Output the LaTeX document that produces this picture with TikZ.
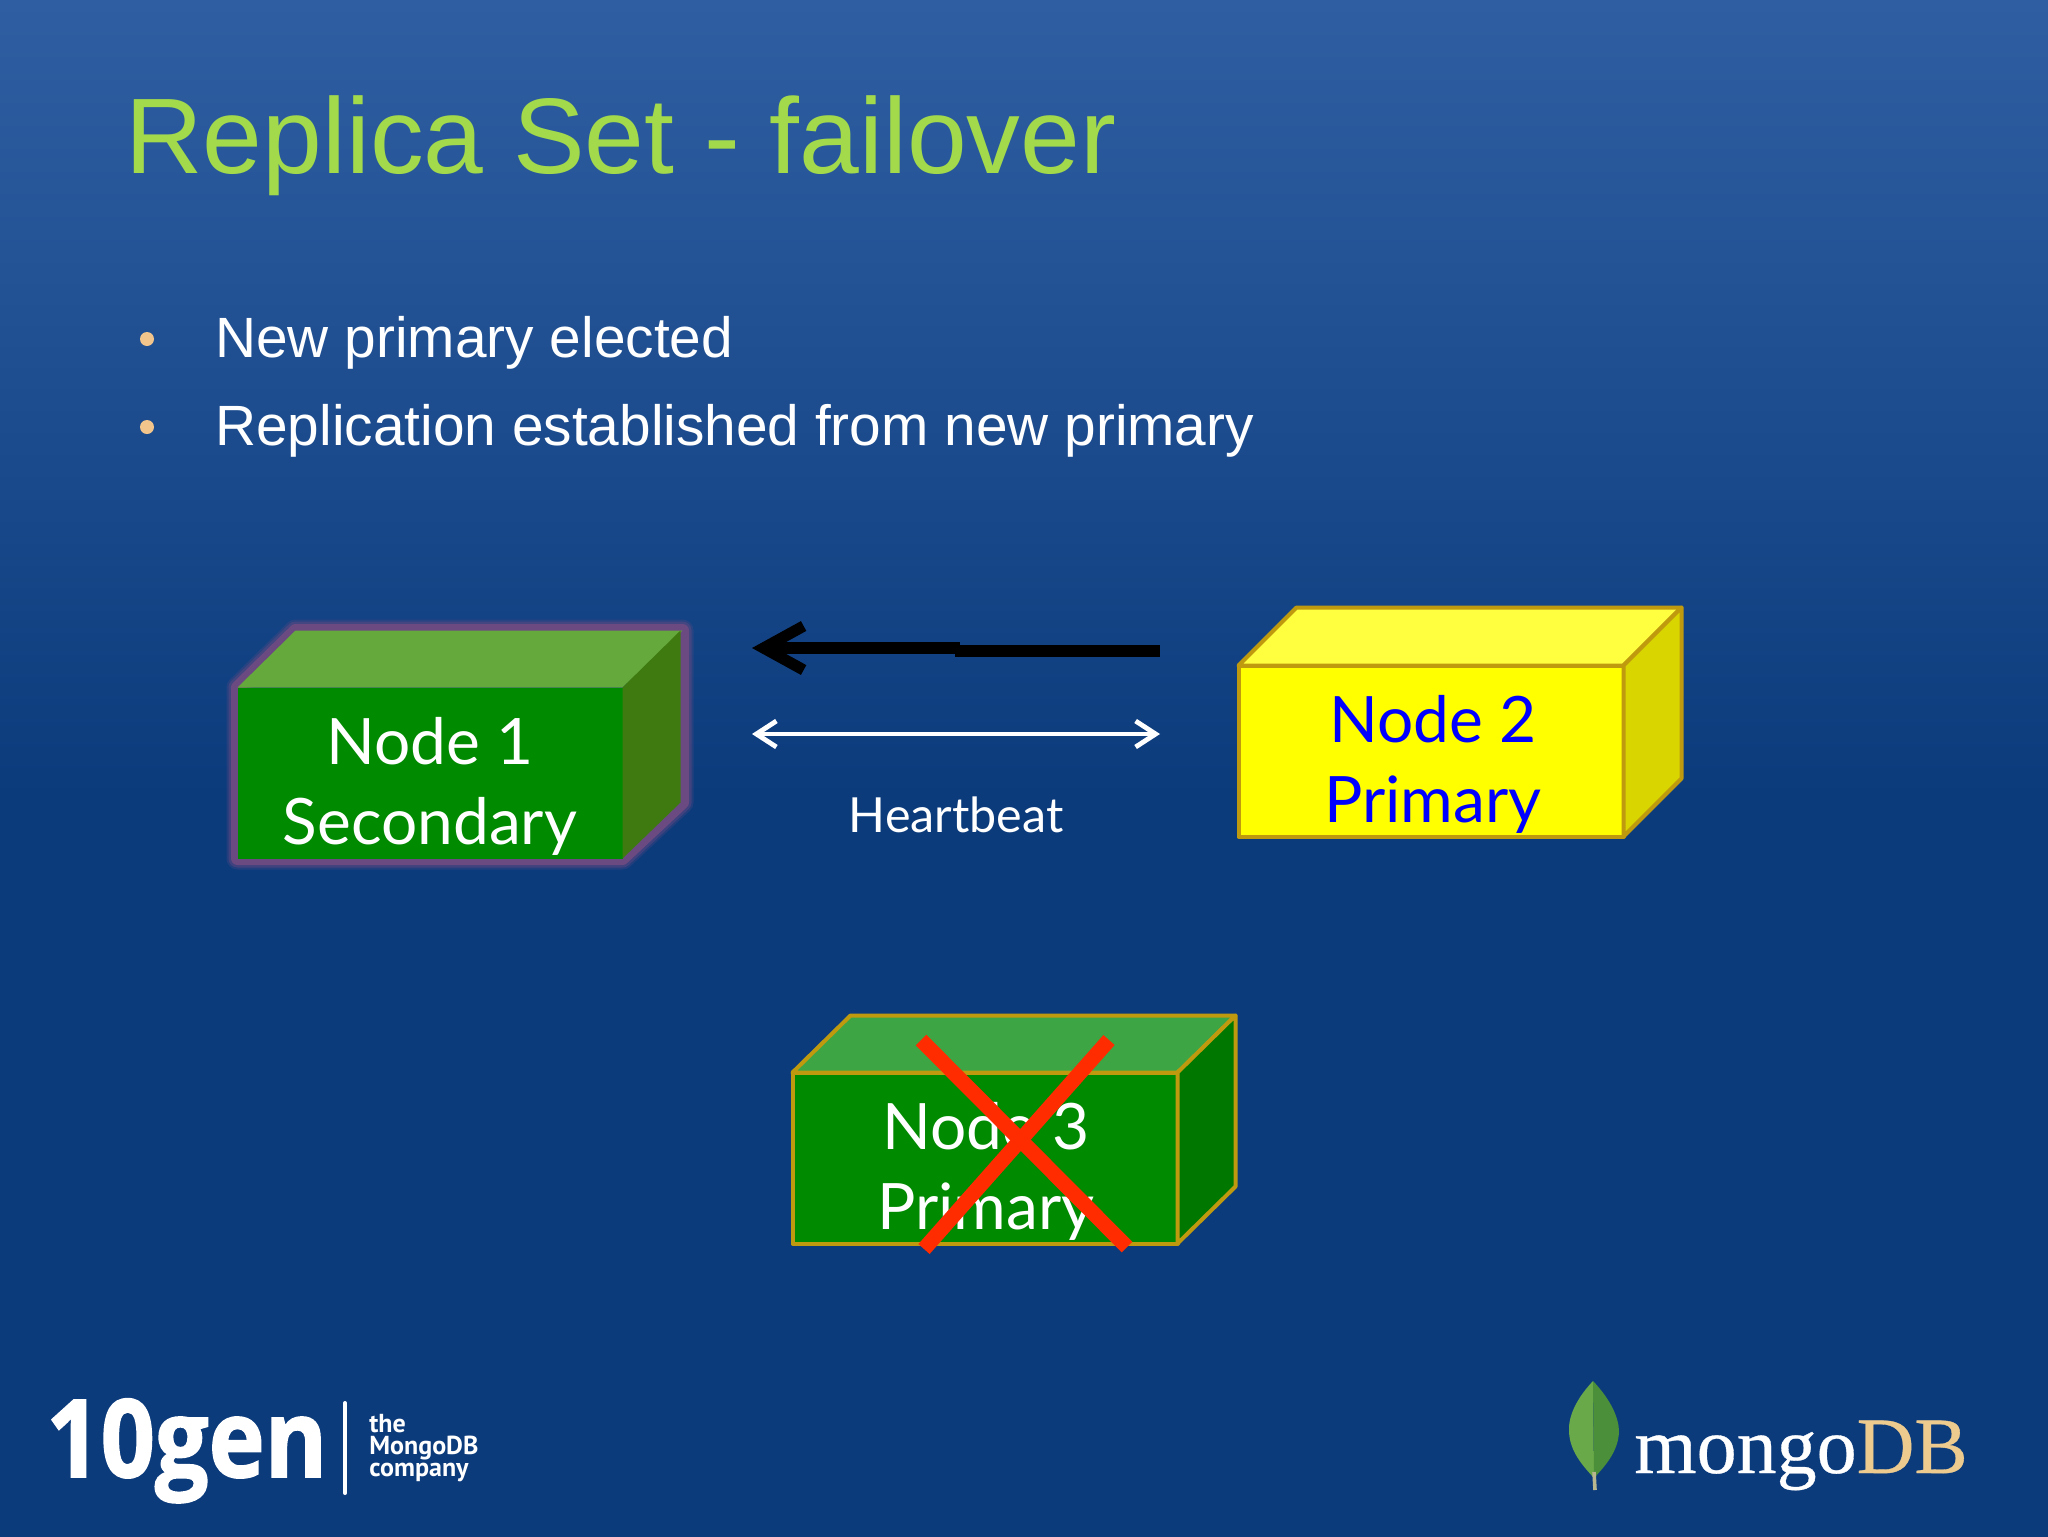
\documentclass[tikz,border=0pt]{standalone}
\usepackage{fontspec}
\setmainfont{Liberation Sans}
\newfontfamily\boxfont{Lato}
\newfontfamily\tenfont[BoldFeatures={FakeBold=1.6}]{Open Sans}
\newfontfamily\tagfont{PT Sans}
\newfontfamily\mongofont[FakeBold=0.4]{Liberation Serif}
\usetikzlibrary{arrows.meta,positioning,backgrounds}
\definecolor{bgtop}{HTML}{2F5FA2}
\definecolor{bgbottom}{HTML}{0C3B7C}
\definecolor{titlegreen}{HTML}{A3DA4C}
\definecolor{bulletorange}{HTML}{F2C58C}
\definecolor{boxedge}{HTML}{BF9A0F}
\definecolor{greenfront}{HTML}{008A00}
\definecolor{greentop}{HTML}{3DA543}
\definecolor{greenside}{HTML}{007800}
\definecolor{sectop}{HTML}{65A83B}
\definecolor{secside}{HTML}{3F7A10}
\definecolor{halo}{HTML}{6A4A80}
\definecolor{yellowfront}{HTML}{FFFF00}
\definecolor{yellowtop}{HTML}{FFFF40}
\definecolor{yellowside}{HTML}{D9D500}
\definecolor{nodeblue}{HTML}{0000FF}
\definecolor{crossred}{HTML}{FF2C00}
\definecolor{dbtan}{HTML}{EDCB8E}
\definecolor{leaflight}{HTML}{69A94A}
\definecolor{leafdark}{HTML}{4B8F3B}
\definecolor{stalk}{HTML}{B9B78F}
\pgfdeclareverticalshading{slidebg}{100bp}{color(0bp)=(bgbottom); color(49bp)=(bgbottom); color(75bp)=(bgtop); color(100bp)=(bgtop)}
\tikzset
{
    titletext/.style  = {anchor=base west, inner sep=0pt, text=titlegreen, font=\fontsize{53.7pt}{60pt}\selectfont},
    itemtext/.style   = {anchor=base west, inner sep=0pt, text=white, font=\fontsize{28.4pt}{34pt}\selectfont},
    itemdot/.style    = {circle, fill=bulletorange, inner sep=0pt, minimum size=7pt},
    frontbox/.style   = {rectangle, outer sep=0pt, minimum width=192.5pt, minimum height=85.5pt},
    boxtext/.style    = {align=center, inner sep=0pt, font=\boxfont\fontsize{32pt}{40pt}\selectfont},
    edgeline/.style   = {draw=boxedge, line width=2pt, line join=round},
    haloline/.style   = {draw=halo, line join=round},
    syncline/.style   = {draw=black, line width=5.6pt},
    beatline/.style   = {draw=white, line width=2.4pt, {Straight Barb[length=10pt,width=13pt]}-{Straight Barb[length=10pt,width=13pt]}},
    crossline/.style  = {draw=crossred, line width=7.5pt},
    tagtext/.style    = {align=left, inner sep=0pt, text=white, font=\tagfont\bfseries\fontsize{13pt}{11pt}\selectfont}
}
\begin{document}
\begin{tikzpicture}[x=0.5pt, y=-0.5pt]
    \useasboundingbox (0,0) rectangle (2048,1536);

    \node [titletext] (title) at (125,173) {Replica Set - failover};
    \node [itemdot] (dotone) at (147,339) {};
    \node [itemdot] (dottwo) at (147,427) {};
    \node [itemtext] (itemone) at (215,357) {New primary elected};
    \node [itemtext] (itemtwo) at (215,445) {Replication established from new primary};

    % node 1
    \node [frontbox, fill=greenfront] (nodeone) at (430,773) {};
    \begin{pgfonlayer}{background}
        \shade [shading=slidebg] (0,0) rectangle (2048,1536);
        \foreach \wd/\op in {11pt/0.25, 9pt/0.4, 6.5pt/1}
        {
            \draw [haloline, line width=\wd, opacity=\op] (nodeone.north west) -- ++(58,-57) -- ++(387,0) -- ++(0,172) -- (nodeone.south east) -- (nodeone.south west) -- cycle;
        }
    \end{pgfonlayer}
    \fill [sectop] (nodeone.north west) -- ++(58,-57) -- ++(387,0) -- (nodeone.north east) -- cycle;
    \fill [secside] (nodeone.north east) -- ++(58,-57) -- ++(0,172) -- (nodeone.south east) -- cycle;
    \node [boxtext, text=white] (nodeonetext) at (430,786) {Node 1\\Secondary};

    % node 2
    \node [frontbox, fill=yellowfront, edgeline] (nodetwo) at (1431,751) {};
    \filldraw [edgeline, fill=yellowtop] (nodetwo.north west) -- ++(58,-58) -- ++(385,0) -- (nodetwo.north east) -- cycle;
    \filldraw [edgeline, fill=yellowside] (nodetwo.north east) -- ++(58,-58) -- ++(0,171) -- (nodetwo.south east) -- cycle;
    \node [boxtext, text=nodeblue] (nodetwotext) at (1433,764) {Node 2\\Primary};

    % node 3
    \node [frontbox, fill=greenfront, edgeline] (nodethree) at (985,1158) {};
    \filldraw [edgeline, fill=greentop] (nodethree.north west) -- ++(58,-57) -- ++(385,0) -- (nodethree.north east) -- cycle;
    \filldraw [edgeline, fill=greenside] (nodethree.north east) -- ++(58,-57) -- ++(0,171) -- (nodethree.south east) -- cycle;
    \node [boxtext, text=white] (nodethreetext) at (986,1171) {Node 3\\Primary};

    \coordinate (crossa) at (921,1040);
    \coordinate (crossb) at (1127,1247);
    \coordinate (crossc) at (1109,1040);
    \coordinate (crossd) at (924,1249);
    \draw [crossline] (crossa) -- (crossb);
    \draw [crossline] (crossc) -- (crossd);

    \coordinate (syncright) at (1160,651);
    \coordinate (syncmidr) at (955,651);
    \coordinate (syncmidl) at (960,648);
    \coordinate (syncleft) at (752,648);
    \draw [syncline] (syncright) -- (syncmidr);
    \draw [syncline, -{Straight Barb[length=20pt,width=22pt]}] (syncmidl) -- (syncleft);

    \coordinate (beatleft) at (752,734);
    \coordinate (beatright) at (1160,734);
    \draw [beatline] (beatleft) -- (beatright);
    \node [anchor=base, inner sep=0pt, text=white, font=\boxfont\fontsize{24.2pt}{28pt}\selectfont] (heartbeat) at (956,832) {Heartbeat};

    % logos
    \node [anchor=base west, inner sep=0pt, text=white, font=\tenfont\bfseries\fontsize{54pt}{60pt}\selectfont] (tengen) at (46,1477) {\scalebox{0.88}[1]{10gen}};
    \coordinate (rulea) at (345,1403);
    \coordinate (ruleb) at (345,1493);
    \draw [white, line width=2pt, line cap=round] (rulea) -- (ruleb);
    \node [tagtext, anchor=west] (tagline) at (369,1448) {the\\MongoDB\\company};

    \fill [leaflight] (1593,1381) .. controls (1575,1400) and (1568,1418) .. (1569,1432) .. controls (1570,1452) and (1583,1466) .. (1594,1478) -- cycle;
    \fill [leafdark] (1593,1381) .. controls (1611,1400) and (1619,1418) .. (1619,1432) .. controls (1618,1452) and (1605,1466) .. (1594,1478) -- cycle;
    \draw [stalk, line width=1.8pt] (1594,1472) -- (1595,1490);
    \node [anchor=base west, inner sep=0pt, text=white, font=\mongofont\fontsize{40pt}{44pt}\selectfont] (mongotext) at (1634,1473) {mongo\textcolor{dbtan}{DB}};
\end{tikzpicture}
\end{document}
